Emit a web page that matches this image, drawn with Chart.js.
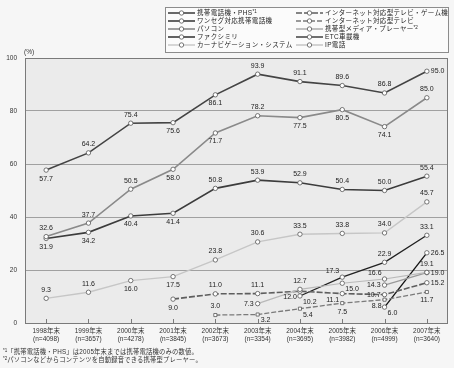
<!DOCTYPE html>
<html lang="ja">
<head>
<meta charset="UTF-8">
<title>情報通信機器の世帯保有率の推移</title>
<script src="https://cdn.jsdelivr.net/npm/chart.js"></script>
<style>
  body { margin: 0; background: #f6f6f6; font-family: Arial, "Liberation Sans", "Noto Sans CJK JP", sans-serif; }
  #wrap { position: relative; width: 454px; height: 368px; overflow: hidden; }
  #chart { position: absolute; left: 0; top: 0; }
  #legendBox { position: absolute; left: 165px; top: 7px; width: 282px; height: 44px; border: 1px solid #8c8c8c; background: #fbfbfb; }
  .item { position: absolute; font-size: 6.5px; line-height: 8px; color: #222; white-space: nowrap; letter-spacing: 0.35px; }
  .item canvas { position: absolute; left: 0; top: 1px; }
  .item span.t { position: absolute; left: 29px; top: 0; }
  sup { font-size: 4.5px; vertical-align: top; line-height: 5px; letter-spacing: 0; }
  #unit { position: absolute; left: 24px; top: 48px; font-size: 6.5px; color: #333; }
  .note { position: absolute; left: 3px; font-size: 6.3px; line-height: 8px; color: #333; white-space: nowrap; letter-spacing: 0.2px; }
</style>
</head>
<body>
<div id="wrap">
  <canvas id="chart" width="454" height="368"></canvas>
  <div id="legendBox"></div>
  <div id="unit">(%)</div>
  <div class="note" style="top:348px"><sup>*1</sup>「携帯電話機・PHS」は2005年末までは携帯電話機のみの数値。</div>
  <div class="note" style="top:356px"><sup>*2</sup>パソコンなどからコンテンツを自動録音できる携帯型プレーヤー。</div>
</div>
<script>
  // 年次と回答数
  const years = ['1998年末', '1999年末', '2000年末', '2001年末', '2002年末', '2003年末', '2004年末', '2005年末', '2006年末', '2007年末'];
  const samples = ['(n=4098)', '(n=3657)', '(n=4278)', '(n=3845)', '(n=3673)', '(n=3354)', '(n=3695)', '(n=3982)', '(n=4999)', '(n=3640)'];
  const yTicks = [0, 20, 40, 60, 80, 100];

  // 保有率 (%)
  const keitai  = [57.7, 64.2, 75.4, 75.6, 86.1, 93.9, 91.1, 89.6, 86.8, 95.0];
  const oneseg  = [null, null, null, null, null, null, null, null, 6.0, 26.5];
  const pasokon = [32.6, 37.7, 50.5, 58.0, 71.7, 78.2, 77.5, 80.5, 74.1, 85.0];
  const fax     = [31.9, 34.2, 40.4, 41.4, 50.8, 53.9, 52.9, 50.4, 50.0, 55.4];
  const carnavi = [9.3, 11.6, 16.0, 17.5, 23.8, 30.6, 33.5, 33.8, 34.0, 45.7];
  const netGame = [null, null, null, 9.0, 11.0, 11.1, 12.0, 11.1, 10.7, 15.2];
  const netTv   = [null, null, null, null, 3.0, 3.2, 5.4, 7.5, 8.8, 11.7];
  const media   = [null, null, null, null, null, null, null, null, 14.3, 19.0];
  const etcCar  = [null, null, null, null, null, null, 10.2, 17.3, 22.9, 33.1];
  const ipPhone = [null, null, null, null, null, 7.3, 12.7, 15.0, 16.6, 19.1];

  // 数値ラベルの位置 (a:上 b:下 l:左 r:右 al/ar/bl/br:斜め)
  const pos = {
    keitai:  ['b', 'a', 'a', 'b', 'b', 'a', 'a', 'a', 'a', 'r'],
    oneseg:  [0, 0, 0, 0, 0, 0, 0, 0, 'br', 'r'],
    pasokon: ['a', 'a', 'a', 'b', 'b', 'a', 'b', 'b', 'b', 'a'],
    fax:     ['b', 'b', 'b', 'b', 'a', 'a', 'a', 'a', 'a', 'a'],
    carnavi: ['a', 'a', 'b', 'b', 'a', 'a', 'a', 'a', 'a', 'a'],
    netGame: [0, 0, 0, 'b', 'a', 'a', 'bl', 'bl', 'l', 'r'],
    netTv:   [0, 0, 0, 0, 'a', 'br', 'br', 'b', 'bl', 'b'],
    media:   [0, 0, 0, 0, 0, 0, 0, 0, 'l', 'r'],
    etcCar:  [0, 0, 0, 0, 0, 0, 'br', 'al', 'a', 'a'],
    ipPhone: [0, 0, 0, 0, 0, 'l', 'a', 'br', 'al', 'a']
  };
  const offsets = {
    a: [0, -8.5, 'center'], b: [0, 8.5, 'center'],
    l: [-4, 0, 'right'], r: [4, 0, 'left'],
    al: [-3, -6, 'right'], ar: [3, -6, 'left'],
    bl: [-3, 6, 'right'], br: [3, 6, 'left']
  };

  const FONT = 'Arial, "Liberation Sans", "Noto Sans CJK JP", sans-serif';

  function serie(key, label, data, color, width, dash, shape) {
    return {
      key: key, label: label, data: data,
      borderColor: color, borderWidth: width, borderDash: dash || [],
      pointStyle: shape || 'circle', pointRadius: 2.2,
      pointBackgroundColor: '#ffffff', pointBorderColor: '#555', pointBorderWidth: 0.8,
      fill: false, tension: 0, spanGaps: false
    };
  }

  const datasets = [
    serie('carnavi', 'カーナビゲーション・システム', carnavi, '#c6c6c6', 1.4),
    serie('ipPhone', 'IP電話', ipPhone, '#b9b9b9', 1.2),
    serie('media', '携帯型メディア・プレーヤー', media, '#999999', 1.2),
    serie('netTv', 'インターネット対応型テレビ', netTv, '#7a7a7a', 1.3, [5, 2], 'rect'),
    serie('netGame', 'インターネット対応型テレビ・ゲーム機', netGame, '#5e5e5e', 1.6, [6, 2]),
    serie('pasokon', 'パソコン', pasokon, '#8a8a8a', 1.6),
    serie('fax', 'ファクシミリ', fax, '#3c3c3c', 1.6),
    serie('etcCar', 'ETC車載機', etcCar, '#222222', 1.3),
    serie('oneseg', 'ワンセグ対応携帯電話機', oneseg, '#111111', 1.3),
    serie('keitai', '携帯電話機・PHS', keitai, '#444444', 1.6)
  ];

  // 凡例 (HTML)
  const legendLeft = ['keitai', 'oneseg', 'pasokon', 'fax', 'carnavi'];
  const legendRight = ['netGame', 'netTv', 'media', 'etcCar', 'ipPhone'];
  const sups = { keitai: '*1', media: '*2' };
  const wrap = document.getElementById('wrap');
  function addItem(key, x, y) {
    const ds = datasets.find(function (d) { return d.key === key; });
    const div = document.createElement('div');
    div.className = 'item';
    div.style.left = x + 'px';
    div.style.top = y + 'px';
    const c = document.createElement('canvas');
    c.width = 27; c.height = 6;
    const g = c.getContext('2d');
    g.strokeStyle = ds.borderColor; g.lineWidth = ds.borderWidth;
    g.setLineDash(ds.borderDash);
    g.beginPath(); g.moveTo(0, 3); g.lineTo(27, 3); g.stroke();
    g.setLineDash([]);
    g.fillStyle = '#fff'; g.strokeStyle = '#555'; g.lineWidth = 0.8;
    g.beginPath(); g.arc(13.5, 3, 2.2, 0, Math.PI * 2); g.fill(); g.stroke();
    div.appendChild(c);
    const t = document.createElement('span');
    t.className = 't';
    t.innerHTML = ds.label + (sups[key] ? '<sup>' + sups[key] + '</sup>' : '');
    div.appendChild(t);
    wrap.appendChild(div);
  }
  legendLeft.forEach(function (k, i) { addItem(k, 168, 9 + i * 8.1); });
  legendRight.forEach(function (k, i) { addItem(k, 296, 9 + i * 8.1); });

  // 描画領域の背景と枠
  const plotFrame = {
    id: 'plotFrame',
    beforeDraw(chart) {
      const a = chart.chartArea, c = chart.ctx;
      c.save();
      c.fillStyle = '#ebebeb';
      c.fillRect(a.left, a.top, a.right - a.left, a.bottom - a.top);
      c.restore();
    },
    beforeDatasetsDraw(chart) {
      const a = chart.chartArea, c = chart.ctx, xs = chart.scales.x;
      c.save();
      c.strokeStyle = '#7a7a7a';
      c.lineWidth = 1;
      c.strokeRect(a.left + 0.5, a.top + 0.5, a.right - a.left - 1, a.bottom - a.top);
      for (let i = 0; i < years.length; i++) {
        const x = Math.round(xs.getPixelForTick(i)) + 0.5;
        c.beginPath(); c.moveTo(x, a.bottom); c.lineTo(x, a.bottom - 4); c.stroke();
      }
      c.restore();
    }
  };

  // 数値ラベル
  const valueLabels = {
    id: 'valueLabels',
    afterDatasetsDraw(chart) {
      const c = chart.ctx;
      c.save();
      c.font = '7px ' + FONT;
      c.fillStyle = '#222';
      c.textBaseline = 'middle';
      chart.data.datasets.forEach(function (ds, d) {
        const meta = chart.getDatasetMeta(d);
        meta.data.forEach(function (pt, i) {
          const v = ds.data[i];
          if (v === null || v === undefined) return;
          const o = offsets[pos[ds.key][i]];
          c.textAlign = o[2];
          c.fillText(v.toFixed(1), pt.x + o[0], pt.y + o[1]);
        });
      });
      c.restore();
    }
  };

  new Chart(document.getElementById('chart'), {
    type: 'line',
    data: {
      labels: years.map(function (y, i) { return [y, samples[i]]; }),
      datasets: datasets
    },
    options: {
      responsive: false,
      animation: false,
      layout: { padding: { top: 58, right: 6, left: 0, bottom: 0 } },
      plugins: { legend: { display: false }, tooltip: { enabled: false } },
      scales: {
        x: {
          offset: true,
          grid: { display: false, drawTicks: false },
          border: { display: false },
          ticks: { font: { size: 6.5, family: FONT, lineHeight: 1.1 }, color: '#333', padding: 5, maxRotation: 0, autoSkip: false },
          afterFit(s) { s.height = 45; }
        },
        y: {
          min: yTicks[0], max: yTicks[yTicks.length - 1],
          afterBuildTicks(s) { s.ticks = yTicks.map(function (v) { return { value: v }; }); },
          grid: { color: '#a0a0a0', lineWidth: 1, drawTicks: false },
          border: { display: false },
          ticks: { font: { size: 6.5, family: FONT }, color: '#333', padding: 8 },
          afterFit(s) { s.width = 25; }
        }
      }
    },
    plugins: [plotFrame, valueLabels]
  });
</script>
</body>
</html>
